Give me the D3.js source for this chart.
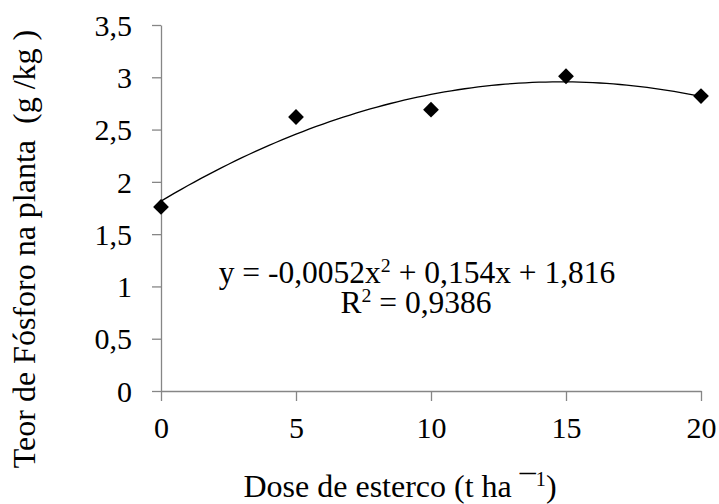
<!DOCTYPE html>
<html>
<head>
<meta charset="utf-8">
<script src="https://cdn.jsdelivr.net/npm/d3@7.9.0/dist/d3.min.js"></script>
<style>
  html, body { margin: 0; padding: 0; background: #fff; }
  svg { display: block; }
  svg text { font-family: "Liberation Serif", "Times New Roman", serif; white-space: pre; }
</style>
</head>
<body>
<div id="chart"></div>
<script>
// Observed points
const doses  = [0, 5, 10, 15, 20];
const teores = [1.76, 2.62, 2.69, 3.01, 2.82];

// Fitted quadratic printed on the chart: a*x^2 + b*x + c
const coefs = [-0.0052, 0.154, 1.816];

const xTicks = [0, 5, 10, 15, 20];
const yTicks = [0, 0.5, 1, 1.5, 2, 2.5, 3, 3.5];

const width  = 719;
const height = 504;
const margin = { top: 25, right: 18, bottom: 113, left: 161 };

const svg = d3.select('#chart')
  .append('svg')
  .attr('width', width)
  .attr('height', height);

const xScale = d3.scaleLinear()
  .domain([0, 20])
  .range([margin.left, width - margin.right]);

const yScale = d3.scaleLinear()
  .domain([0, 3.5])
  .range([height - margin.bottom, margin.top]);

const fmt = d => String(d).replace('.', ',');
const axisColor = '#868686';

// X axis
const gx = svg.append('g')
  .attr('transform', `translate(0, ${yScale(0)})`)
  .call(d3.axisBottom(xScale).tickValues(xTicks).tickFormat(fmt).tickSize(10).tickSizeOuter(0));

// Y axis
const gy = svg.append('g')
  .attr('transform', `translate(${xScale(0)}, 0)`)
  .call(d3.axisLeft(yScale).tickValues(yTicks).tickFormat(fmt).tickSize(9).tickSizeOuter(0));

for (const g of [gx, gy]) {
  g.attr('font-family', null).attr('font-size', 30);
  g.select('.domain').attr('stroke', axisColor).attr('stroke-width', 1.3);
  g.selectAll('.tick line').attr('stroke', axisColor).attr('stroke-width', 1.3);
  g.selectAll('.tick text').attr('fill', '#000');
}
gx.selectAll('.tick text').attr('dy', null).attr('y', 47);
gy.selectAll('.tick text').attr('x', -29).attr('dy', '0.34em');

// Trend line
const poly = x => coefs[0] * x * x + coefs[1] * x + coefs[2];
const curve = d3.range(0, 20.01, 0.25).map(x => [x, poly(x)]);
svg.append('path')
  .datum(curve)
  .attr('fill', 'none')
  .attr('stroke', '#000')
  .attr('stroke-width', 1.3)
  .attr('d', d3.line().x(d => xScale(d[0])).y(d => yScale(d[1])));

// Points
svg.append('g')
  .selectAll('path')
  .data(doses.map((d, i) => [d, teores[i]]))
  .join('path')
  .attr('transform', d => `translate(${xScale(d[0])}, ${yScale(d[1])}) rotate(45)`)
  .attr('d', d3.symbol(d3.symbolSquare, 125))
  .attr('fill', '#000');

// text with superscripts: parts = [[string, isSup], ...]
function label(x, y, size, parts) {
  const t = svg.append('text')
    .attr('x', x).attr('y', y)
    .attr('text-anchor', 'middle')
    .attr('font-size', size);
  let prevSup = false;
  for (const [s, sup] of parts) {
    const dy = sup ? -11 : (prevSup ? 11 : 0);
    const ts = t.append('tspan').attr('dy', dy).text(s);
    if (sup) ts.attr('font-size', size * 0.63);
    prevSup = !!sup;
  }
  return t;
}

label(417, 283, 31.5, [['y = -0,0052x'], ['2', true], [' + 0,154x + 1,816']]);
label(416, 313, 31.5, [['R'], ['2', true], [' = 0,9386']]);

// Axis titles
label(400, 497, 32, [['Dose de esterco (t ha ¯'], ['1', true], [')']]);

svg.append('text')
  .attr('transform', 'translate(35, 249) rotate(-90)')
  .attr('text-anchor', 'middle')
  .attr('font-size', 32)
  .text('Teor de Fósforo na planta  (g /kg )');
</script>
</body>
</html>
